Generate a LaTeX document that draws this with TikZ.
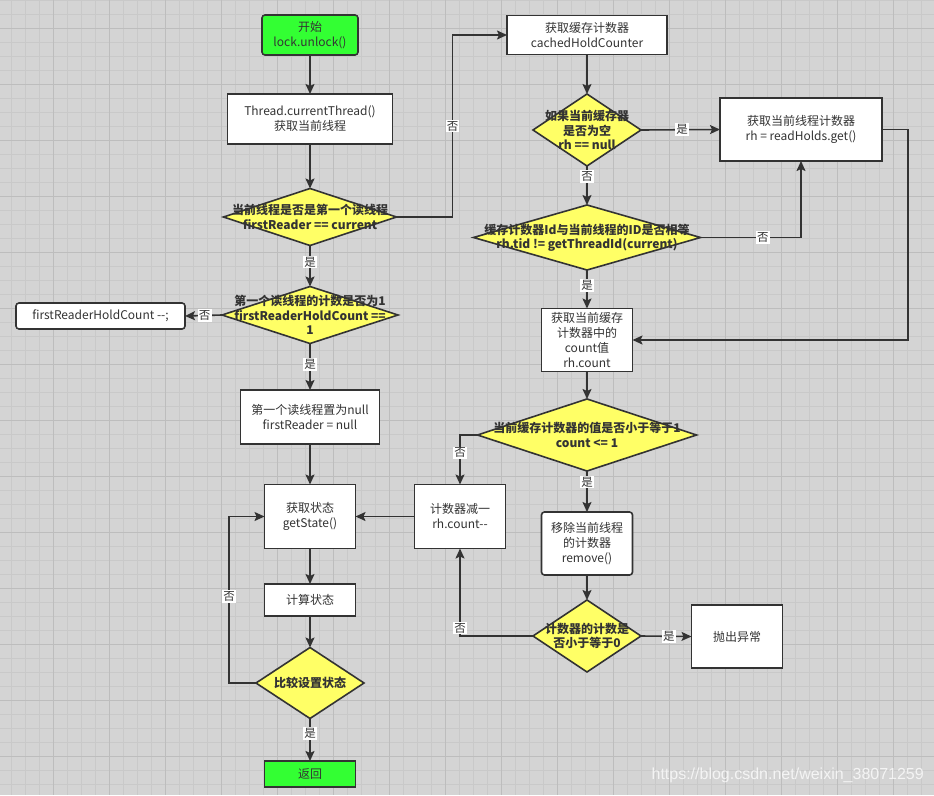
\documentclass[tikz,border=0pt]{standalone}
\usepackage{fontspec}
\setmainfont{Noto Sans CJK SC}
\newfontfamily\wmfont{Liberation Sans}
\usetikzlibrary{shapes.geometric,arrows.meta}
\definecolor{bg}{RGB}{212,212,212}
\definecolor{gminor}{RGB}{201,201,201}
\definecolor{gmajor}{RGB}{189,189,189}
\definecolor{ln}{RGB}{51,51,51}
\definecolor{yel}{RGB}{255,255,102}
\definecolor{grn}{RGB}{51,255,51}
\definecolor{txt}{RGB}{51,51,51}
\tikzset{
  box/.style={rectangle, draw=ln, fill=white, line width=1.6pt, inner sep=0pt, outer sep=0pt,
    align=center, text=txt, font=\fontsize{12}{15}\selectfont},
  rbox/.style={box, rounded corners=3pt},
  gbox/.style={box, fill=grn},
  decision/.style={diamond, draw=ln, fill=yel, line width=1.6pt, inner sep=0pt, outer sep=0pt},
  dtext/.style={align=center, text=txt, font=\fontsize{12}{14.5}\selectfont\bfseries, inner sep=0pt},
  arrow/.style={draw=ln, line width=1.6pt, -{Stealth[length=10pt,width=9pt,inset=2pt]}},
  elabel/.style={fill=white, inner sep=1.2pt, text=txt, font=\fontsize{11.5}{13}\selectfont}
}
\begin{document}
\begin{tikzpicture}[x=1pt,y=-1pt]
\useasboundingbox (0,0) rectangle (934,795);
\fill[bg] (0,0) rectangle (934,795);
\foreach \xx in {-2.3,11.7,...,940} \draw[gminor,line width=1pt] (\xx,0) -- (\xx,795);
\foreach \yy in {0.3,14.3,...,800} \draw[gminor,line width=1pt] (0,\yy) -- (934,\yy);
\foreach \xx in {-2.3,53.7,...,940} \draw[gmajor,line width=1pt] (\xx,0) -- (\xx,795);
\foreach \yy in {28.3,84.3,...,800} \draw[gmajor,line width=1pt] (0,\yy) -- (934,\yy);

% left column
\node[gbox, rounded corners=3pt, minimum width=96pt, minimum height=40pt] (start) at (310,35) {开始\\lock.unlock()};
\node[box, minimum width=165pt, minimum height=50pt] (thread) at (310,119) {Thread.currentThread()\\获取当前线程};
\node[decision, minimum width=173pt, minimum height=57pt,
  label={[dtext]center:当前线程是否是第一个读线程\\firstReader == current}] (d1) at (310,217) {};
\node[decision, minimum width=176pt, minimum height=57pt,
  label={[dtext]center:第一个读线程的计数是否为1\\firstReaderHoldCount ==\\1}] (d6) at (310,315) {};
\node[rbox, minimum width=169pt, minimum height=26pt] (frhc) at (100.5,316) {firstReaderHoldCount -\kern0pt-;};
\node[box, minimum width=139pt, minimum height=54pt] (fnull) at (310,417) {第一个读线程置为null\\firstReader = null};
\node[box, minimum width=91pt, minimum height=64pt] (getstate) at (310,516.5) {获取状态\\getState()};
\node[box, minimum width=91pt, minimum height=32pt] (calc) at (310,600) {计算状态};
\node[decision, minimum width=108pt, minimum height=71pt,
  label={[dtext]center:比较设置状态}] (d5) at (310,683) {};
\node[gbox, minimum width=91pt, minimum height=26pt] (ret) at (310,774) {返回};

% right column
\node[box, minimum width=160pt, minimum height=39pt] (cached) at (587,35) {获取缓存计数器\\cachedHoldCounter};
\node[decision, minimum width=108pt, minimum height=72pt,
  label={[dtext]center:如果当前缓存器\\是否为空\\rh == null}] (d2) at (587,130) {};
\node[box, minimum width=162pt, minimum height=63pt] (readh) at (801,129.5) {获取当前线程计数器\\rh = readHolds.get()};
\node[decision, minimum width=227pt, minimum height=65pt,
  label={[dtext]center:缓存计数器Id与当前线程的ID是否相等\\rh.tid != getThreadId(current)}] (d3) at (587,237.5) {};
\node[box, minimum width=91pt, minimum height=63pt] (rhc) at (587,340) {获取当前缓存\\计数器中的\\count值\\rh.count};
\node[decision, minimum width=219pt, minimum height=72pt,
  label={[dtext]center:当前缓存计数器的值是否小于等于1\\count <= 1}] (d4) at (587,435) {};
\node[box, minimum width=91pt, minimum height=64pt] (dec) at (460,516.5) {计数器减一\\rh.count-\kern0pt-};
\node[rbox, minimum width=91pt, minimum height=63pt] (remove) at (587,543.5) {移除当前线程\\的计数器\\remove()};
\node[decision, minimum width=108pt, minimum height=72pt,
  label={[dtext]center:计数器的计数是\\否小于等于0}] (d7) at (587,636) {};
\node[box, minimum width=91pt, minimum height=63pt] (throw) at (737,636.5) {抛出异常};

% connectors
\draw[arrow] (start) -- (thread);
\draw[arrow] (thread) -- (d1);
\draw[arrow] (d1.east) -- ++(56,0) |- node[elabel,pos=0.25] {否} (cached.west);
\draw[arrow] (cached) -- (d2);
\draw[arrow] (d2.east) -- node[elabel,pos=0.52] {是} (readh.west);
\draw[arrow] (d2.south) -- node[elabel,pos=0.27] {否} (d3.north);
\draw[arrow] (d3.east) -| node[elabel,pos=0.31] {否} (readh.south);
\draw[arrow] (readh.east) -- ++(26,0) |- (rhc.east);
\draw[arrow] (d3.south) -- node[elabel,pos=0.4] {是} (rhc.north);
\draw[arrow] (rhc) -- (d4);
\draw[arrow] (d4.west) -| node[elabel,pos=0.68] {否} (dec.north);
\draw[arrow] (d4.south) -- node[elabel,pos=0.27] {是} (remove.north);
\draw[arrow] (remove) -- (d7);
\draw[arrow] (d7.west) -| node[elabel,pos=0.545] {否} (dec.south);
\draw[arrow] (d7.east) -- node[elabel,pos=0.55] {是} (throw.west);
\draw[arrow] (dec.west) -- (getstate.east);
\draw[arrow] (d1.south) -- node[elabel,pos=0.4] {是} (d6.north);
\draw[arrow] (d6.west) -- node[elabel,pos=0.47] {否} (frhc.east);
\draw[arrow] (d6.south) -- node[elabel,pos=0.45] {是} (fnull.north);
\draw[arrow] (fnull) -- (getstate);
\draw[arrow] (getstate) -- (calc);
\draw[arrow] (calc) -- (d5);
\draw[arrow] (d5.west) -- ++(-27,0) |- node[elabel,pos=0.26] {否} (getstate.west);
\draw[arrow] (d5.south) -- node[elabel,pos=0.35] {是} (ret.north);

% watermark
\node[anchor=east, text=white, opacity=0.75, font=\wmfont\fontsize{16}{18}\selectfont, inner sep=0pt] (wm) at (924,775) {https://blog.csdn.net/weixin\_38071259};
\end{tikzpicture}
\end{document}
